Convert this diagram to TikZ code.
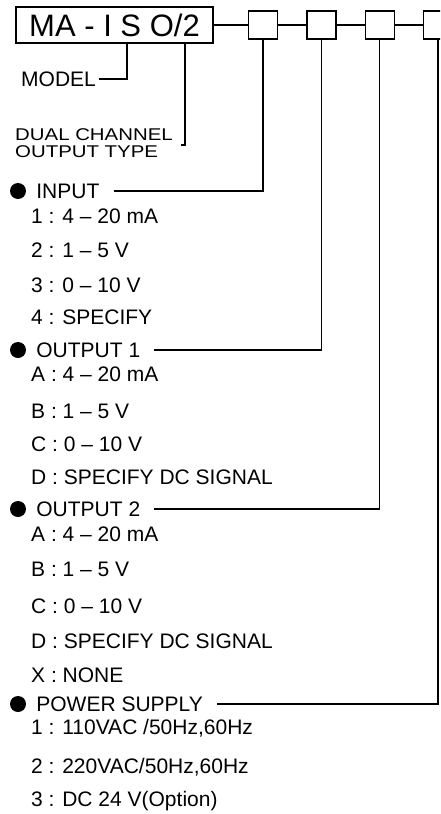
\documentclass[tikz,border=0pt]{standalone}
\usepackage{fontspec}
\setmainfont{Liberation Sans}
\newfontfamily\widefont{Liberation Sans}[FakeStretch=1.2]
\usetikzlibrary{positioning}

\tikzset{
  lead/.style={line width=1.4pt},
  codebox/.style={draw, line width=1.4pt, minimum width=29pt, minimum height=28pt, inner sep=0pt},
  head/.style={anchor=west, inner sep=0pt, text height=15pt, text depth=0pt, font=\fontsize{21}{24}\selectfont},
  opt/.style={head},
  dot/.style={circle, fill=black, minimum size=16pt, inner sep=0pt},
}

\begin{document}
\begin{tikzpicture}[x=1pt, y=-1pt]
  \path[use as bounding box, fill=white] (0,0) rectangle (440,814);
  \clip (0,0) rectangle (440,814);

  % model code and selector boxes
  \node[draw, line width=1.4pt, minimum width=197pt, minimum height=36pt, inner sep=0pt, font=\fontsize{31}{31}\selectfont] (m) at (114.5,25) {MA - I S O/2};
  \node[codebox, right=34pt of m] (s1) {};
  \node[codebox, right=28pt of s1] (s2) {};
  \node[codebox, right=28pt of s2] (s3) {};
  \node[codebox, right=28pt of s3] (s4) {};
  \draw[lead] (m) -- (s1) -- (s2) -- (s3) -- (s4);

  % what the code says
  \node[head] (model) at (21,79) {MODEL};
  \draw[lead, shorten <=3pt] (model) -| (m.south -| 127,0);
  \node[anchor=north west, inner sep=0pt, align=left, font=\widefont\fontsize{17}{17}\selectfont] (dual) at (15,128) {DUAL CHANNEL\\OUTPUT TYPE};
  \coordinate (tick) at (181,145);
  \draw[lead] (tick) -| (m.south -| 185,0);

  % input
  \node[dot] (d1) at (18,191) {};
  \node[head, right=10pt of d1] (h1) {INPUT};
  \draw[lead, shorten <=14pt] (h1) -| (s1);
  \node[opt] (in1) at (31,216) {1 : 4 – 20 mA};
  \node[opt] (in2) at (31,250) {2 : 1 – 5 V};
  \node[opt] (in3) at (31,285) {3 : 0 – 10 V};
  \node[opt] (in4) at (31,317) {4 : SPECIFY};

  % output 1
  \node[dot] (d2) at (18,350) {};
  \node[head, right=10pt of d2] (h2) {OUTPUT 1};
  \draw[lead, shorten <=14pt] (h2) -| (s2);
  \node[opt] (oa1) at (31,374) {A : 4 – 20 mA};
  \node[opt] (oa2) at (31,411) {B : 1 – 5 V};
  \node[opt] (oa3) at (31,444) {C : 0 – 10 V};
  \node[opt] (oa4) at (31,477) {D : SPECIFY DC SIGNAL};

  % output 2
  \node[dot] (d3) at (18,509) {};
  \node[head, right=10pt of d3] (h3) {OUTPUT 2};
  \draw[lead, shorten <=14pt] (h3) -| (s3);
  \node[opt] (ob1) at (31,534) {A : 4 – 20 mA};
  \node[opt] (ob2) at (31,569) {B : 1 – 5 V};
  \node[opt] (ob3) at (31,606) {C : 0 – 10 V};
  \node[opt] (ob4) at (31,641) {D : SPECIFY DC SIGNAL};
  \node[opt] (ob5) at (31,675) {X : NONE};

  % power supply
  \node[dot] (d4) at (18,704) {};
  \node[head, right=10pt of d4] (h4) {POWER SUPPLY};
  \draw[lead, shorten <=14pt] (h4) -| (s4);
  \node[opt] (pw1) at (31,727) {1 : 110VAC /50Hz,60Hz};
  \node[opt] (pw2) at (31,766) {2 : 220VAC/50Hz,60Hz};
  \node[opt] (pw3) at (31,799) {3 : DC 24 V(Option)};
\end{tikzpicture}
\end{document}
